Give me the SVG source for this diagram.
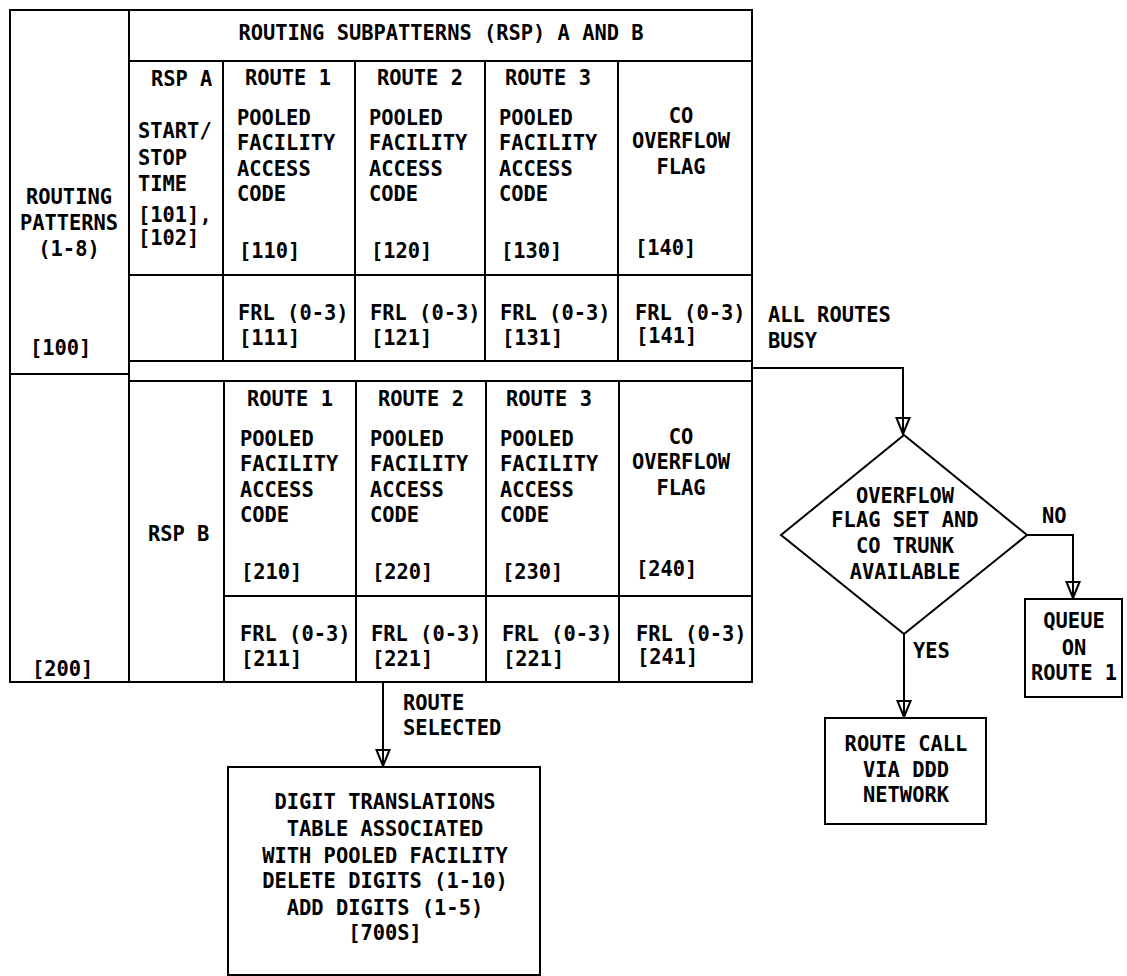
<svg xmlns="http://www.w3.org/2000/svg" width="1127" height="976" viewBox="0 0 1127 976">
<defs>
<style>
.ln{stroke:#000;stroke-width:2;fill:none}
.bx{stroke:#000;stroke-width:2;fill:#fff}
text{font-family:"DejaVu Sans Mono","Liberation Mono",monospace;font-weight:bold;font-size:20.4px;fill:#000}
.m{text-anchor:middle}
</style>
<marker id="arr" viewBox="-20 -9 22 18" refX="0" refY="0" markerWidth="22" markerHeight="18" markerUnits="userSpaceOnUse" orient="auto">
<path d="M-17,-6.5 L-1,0 L-17,6.5 Z" fill="none" stroke="#000" stroke-width="2"/>
</marker>
</defs>
<rect width="1127" height="976" fill="#fff"/>

<g id="table">
<rect class="ln" x="10" y="10" width="742" height="672"/>
<line class="ln" x1="129" y1="10" x2="129" y2="682"/>
<line class="ln" x1="129" y1="61" x2="752" y2="61"/>
<line class="ln" x1="223" y1="61" x2="223" y2="361"/>
<line class="ln" x1="355" y1="61" x2="355" y2="361"/>
<line class="ln" x1="485" y1="61" x2="485" y2="361"/>
<line class="ln" x1="618" y1="61" x2="618" y2="361"/>
<line class="ln" x1="129" y1="275" x2="752" y2="275"/>
<line class="ln" x1="129" y1="361" x2="752" y2="361"/>
<line class="ln" x1="10" y1="374" x2="129" y2="374"/>
<line class="ln" x1="129" y1="381" x2="752" y2="381"/>
<line class="ln" x1="224" y1="381" x2="224" y2="682"/>
<line class="ln" x1="356" y1="381" x2="356" y2="682"/>
<line class="ln" x1="486" y1="381" x2="486" y2="682"/>
<line class="ln" x1="619" y1="381" x2="619" y2="682"/>
<line class="ln" x1="224" y1="596" x2="752" y2="596"/>

<text class="m" x="441" y="40">ROUTING SUBPATTERNS (RSP) A AND B</text>
<text class="m" x="69" y="204">ROUTING</text>
<text class="m" x="69" y="230">PATTERNS</text>
<text class="m" x="69" y="256">(1-8)</text>
<text x="30" y="355">[100]</text>
<text x="32" y="676">[200]</text>

<text x="151" y="86">RSP A</text>
<text x="138" y="138">START/</text>
<text x="138" y="165">STOP</text>
<text x="138" y="191">TIME</text>
<text x="138" y="222">[101],</text>
<text x="138" y="245">[102]</text>
<text x="148" y="541">RSP B</text>

<text x="245" y="85">ROUTE 1</text>
<text x="237" y="125">POOLED</text>
<text x="237" y="150">FACILITY</text>
<text x="237" y="176">ACCESS</text>
<text x="237" y="201">CODE</text>
<text x="239" y="258">[110]</text>
<text x="238" y="320">FRL (0-3)</text>
<text x="239" y="345">[111]</text>

<text x="377" y="85">ROUTE 2</text>
<text x="369" y="125">POOLED</text>
<text x="369" y="150">FACILITY</text>
<text x="369" y="176">ACCESS</text>
<text x="369" y="201">CODE</text>
<text x="371" y="258">[120]</text>
<text x="370" y="320">FRL (0-3)</text>
<text x="371" y="345">[121]</text>

<text x="505" y="85">ROUTE 3</text>
<text x="499" y="125">POOLED</text>
<text x="499" y="150">FACILITY</text>
<text x="499" y="176">ACCESS</text>
<text x="499" y="201">CODE</text>
<text x="501" y="258">[130]</text>
<text x="500" y="320">FRL (0-3)</text>
<text x="502" y="345">[131]</text>

<text class="m" x="681" y="123">CO</text>
<text class="m" x="681" y="148">OVERFLOW</text>
<text class="m" x="681" y="174">FLAG</text>
<text x="635" y="255">[140]</text>
<text x="635" y="320">FRL (0-3)</text>
<text x="636" y="343">[141]</text>

<text x="247" y="406">ROUTE 1</text>
<text x="240" y="446">POOLED</text>
<text x="240" y="471">FACILITY</text>
<text x="240" y="497">ACCESS</text>
<text x="240" y="522">CODE</text>
<text x="241" y="579">[210]</text>
<text x="240" y="641">FRL (0-3)</text>
<text x="241" y="666">[211]</text>

<text x="378" y="406">ROUTE 2</text>
<text x="370" y="446">POOLED</text>
<text x="370" y="471">FACILITY</text>
<text x="370" y="497">ACCESS</text>
<text x="370" y="522">CODE</text>
<text x="372" y="579">[220]</text>
<text x="371" y="641">FRL (0-3)</text>
<text x="372" y="666">[221]</text>

<text x="506" y="406">ROUTE 3</text>
<text x="500" y="446">POOLED</text>
<text x="500" y="471">FACILITY</text>
<text x="500" y="497">ACCESS</text>
<text x="500" y="522">CODE</text>
<text x="502" y="579">[230]</text>
<text x="502" y="641">FRL (0-3)</text>
<text x="503" y="666">[221]</text>

<text class="m" x="681" y="444">CO</text>
<text class="m" x="681" y="469">OVERFLOW</text>
<text class="m" x="681" y="495">FLAG</text>
<text x="636" y="576">[240]</text>
<text x="636" y="641">FRL (0-3)</text>
<text x="637" y="664">[241]</text>
</g>

<g id="connectors">
<path class="ln" d="M752,368 H903 V435" marker-end="url(#arr)"/>
<path class="ln" d="M1027,535 H1073 V599" marker-end="url(#arr)"/>
<path class="ln" d="M904,634 V718" marker-end="url(#arr)"/>
<path class="ln" d="M383,682 V767" marker-end="url(#arr)"/>
<text x="768" y="322">ALL ROUTES</text>
<text x="768" y="348">BUSY</text>
<text x="1042" y="523">NO</text>
<text x="913" y="658">YES</text>
<text x="403" y="710">ROUTE</text>
<text x="403" y="735">SELECTED</text>
</g>

<g id="decision">
<polygon class="bx" points="904,435 1027,535 904,634 781,535"/>
<text class="m" x="905" y="503">OVERFLOW</text>
<text class="m" x="905" y="527">FLAG SET AND</text>
<text class="m" x="905" y="553">CO TRUNK</text>
<text class="m" x="905" y="579">AVAILABLE</text>
</g>

<g id="queue">
<rect class="bx" x="1025" y="599" width="97" height="98"/>
<text class="m" x="1074" y="628">QUEUE</text>
<text class="m" x="1074" y="655">ON</text>
<text class="m" x="1074" y="680">ROUTE 1</text>
</g>

<g id="routecall">
<rect class="bx" x="825" y="718" width="161" height="106"/>
<text class="m" x="906" y="751">ROUTE CALL</text>
<text class="m" x="906" y="777">VIA DDD</text>
<text class="m" x="906" y="802">NETWORK</text>
</g>

<g id="digits">
<rect class="bx" x="228" y="767" width="312" height="208"/>
<text class="m" x="385" y="809">DIGIT TRANSLATIONS</text>
<text class="m" x="385" y="836">TABLE ASSOCIATED</text>
<text class="m" x="385" y="863">WITH POOLED FACILITY</text>
<text class="m" x="385" y="888">DELETE DIGITS (1-10)</text>
<text class="m" x="385" y="915">ADD DIGITS (1-5)</text>
<text class="m" x="385" y="940">[700S]</text>
</g>
</svg>
